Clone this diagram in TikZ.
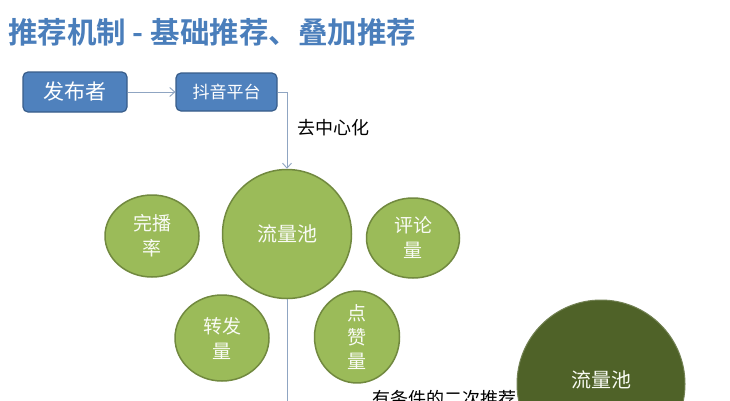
\documentclass[tikz,border=0pt]{standalone}
\usepackage{fontspec}
\newfontfamily\cjk{Noto Sans CJK SC}
\newfontfamily\cjkb{Noto Sans CJK SC Bold}
\usetikzlibrary{arrows.meta}
\definecolor{titleblue}{HTML}{4A7EBB}
\definecolor{boxblue}{HTML}{4F81BD}
\definecolor{boxedge}{HTML}{385D8A}
\definecolor{lgreen}{HTML}{9BBB59}
\definecolor{lgedge}{HTML}{71893F}
\definecolor{dgreen}{HTML}{4F6228}
\definecolor{conn}{HTML}{8FA5C2}
\tikzset{
  bluebox/.style={draw=boxedge, line width=1.2pt, fill=boxblue, rounded corners=5pt, text=white, inner sep=0pt, align=center},
  bubble/.style={draw=lgedge, line width=1.5pt, fill=lgreen, ellipse, text=white!94!lgreen, align=center, inner sep=0pt},
  conline/.style={draw=conn, line width=0.9pt},
  arr/.style={conline, -{Straight Barb[length=5pt,width=9pt]}}
}
\usetikzlibrary{shapes.geometric}
\begin{document}
\begin{tikzpicture}[x=1pt,y=-1pt]
\useasboundingbox (0,0) rectangle (730,400);
\clip (0,0) rectangle (730,400);
\fill[white] (0,0) rectangle (730,400);
\node[anchor=west, text=titleblue, font=\cjkb\fontsize{29.5}{32}\selectfont, inner sep=0pt] (title) at (8,32) {推荐机制 - 基础推荐、叠加推荐};
\node[bluebox, minimum width=104pt, minimum height=40pt, font=\cjk\fontsize{21}{23}\selectfont] (pub) at (75,92) {发布者};
\node[bluebox, minimum width=101pt, minimum height=38pt, font=\cjk\fontsize{17}{20}\selectfont] (plat) at (226.5,92) {抖音平台};
\draw[arr] (pub.east) -- (plat.west);
\node[bubble, circle, minimum size=129pt, font=\cjk\fontsize{20}{22}\selectfont] (pool) at (287,234) {流量池};
\coordinate (c1) at (287,92);
\draw[arr] (plat.east) -- (c1) -- (pool.north);
\node[anchor=west, font=\cjk\fontsize{18}{20}\selectfont, inner sep=0pt] (dec) at (297,128) {去中心化};
\node[bubble, minimum width=94pt, minimum height=82pt, font=\cjk\fontsize{19}{25}\selectfont] (wb) at (152,236) {完播\\率};
\node[bubble, minimum width=93pt, minimum height=80pt, font=\cjk\fontsize{19}{25}\selectfont] (pl) at (413,238) {评论\\量};
\node[bubble, minimum width=94pt, minimum height=86pt, font=\cjk\fontsize{19}{25}\selectfont] (zf) at (222,338) {转发\\量};
\node[bubble, minimum width=85pt, minimum height=71pt, font=\cjk\fontsize{19}{24}\selectfont] (dz) at (357,337) {点\\赞\\量};
\coordinate (bot) at (287,410);
\draw[conline] (pool.south) -- (bot);
\node[anchor=west, font=\cjk\fontsize{18}{20}\selectfont, inner sep=0pt] (sec) at (372,399) {有条件的二次推荐};
\node[circle, fill=dgreen, draw=dgreen!80!white, line width=1pt, minimum size=168pt, inner sep=0pt] (pool2) at (601,384) {};
\node[text=white!92!lgreen, font=\cjk\fontsize{20}{22}\selectfont, inner sep=0pt] (p2t) at (601,380) {流量池};
\end{tikzpicture}
\end{document}
